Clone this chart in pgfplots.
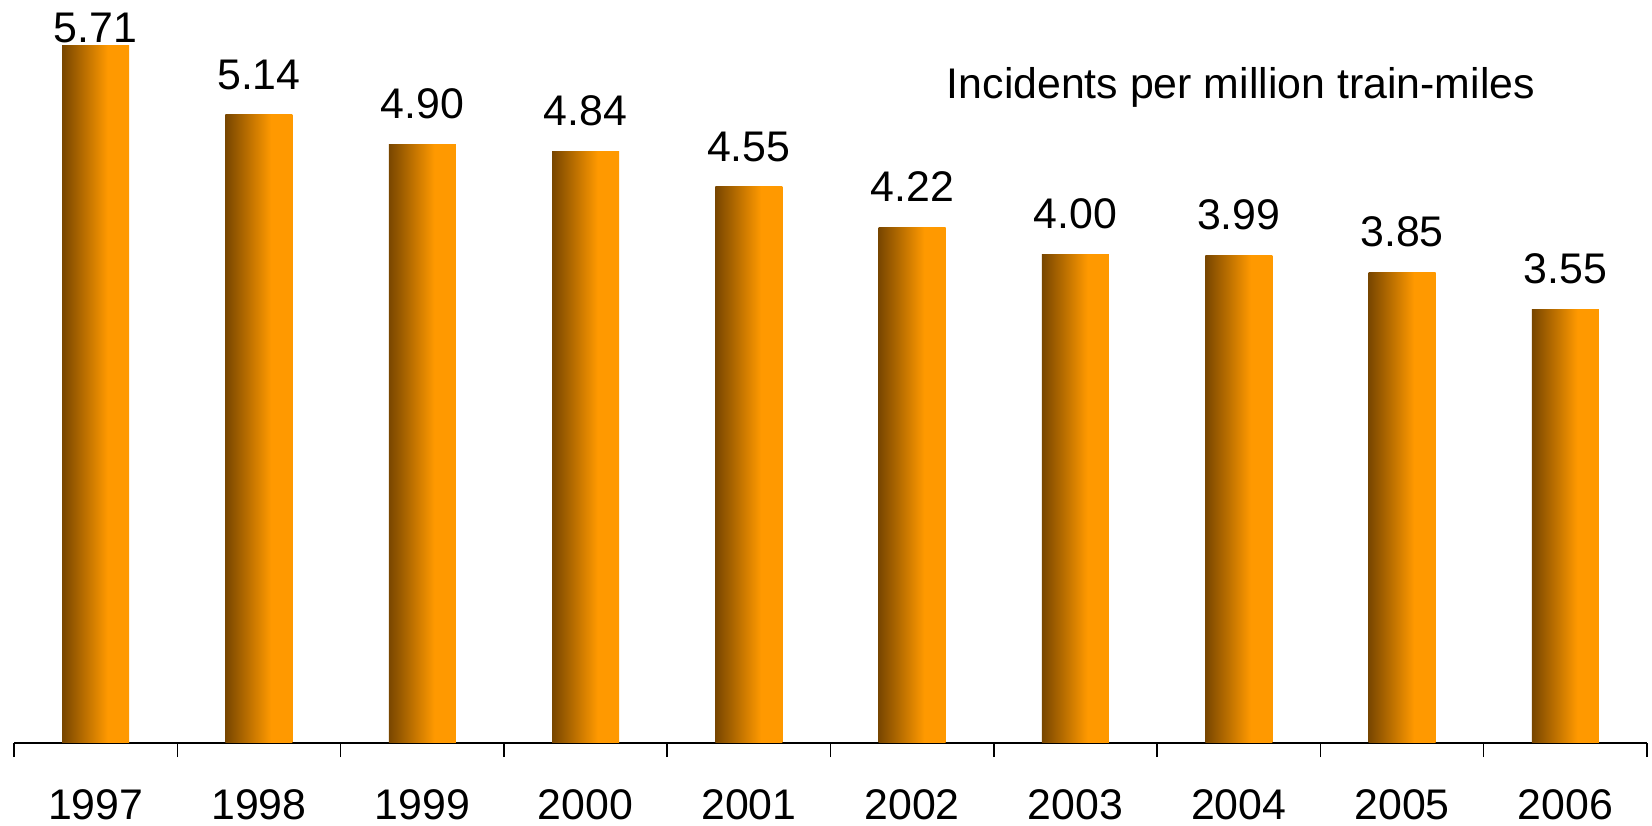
\documentclass[border=0pt]{standalone}
\usepackage{fontspec}
\setmainfont{Liberation Sans}
\usepackage{pgfplots}
\pgfplotsset{compat=1.18}

\definecolor{bardark}{RGB}{120,70,0}
\definecolor{barorange}{RGB}{255,153,0}
% brown on the left, orange from about two thirds of the bar
\pgfdeclarehorizontalshading{barshade}{100bp}{color(0bp)=(bardark); color(25bp)=(bardark); color(59bp)=(barorange); color(100bp)=(barorange)}

\pgfplotsset{
  onebar/.style={ybar, bar width=33.5bp, bar shift=0pt, draw=none, shading=barshade,
    nodes near coords={\pgfmathprintnumber[fixed,zerofill,precision=2,assume math mode=true]{\pgfplotspointmeta}},
    nodes near coords style={anchor=south, inner sep=0pt, yshift=#1, text=black}},
  onebar/.default=12.5bp,
}

\begin{document}
\begin{tikzpicture}[font=\fontsize{21.5}{26}\selectfont]
  \begin{axis}[
      scale only axis,
      width=816.5bp,
      height=371.5bp,
      xmin=-0.5, xmax=9.5,
      ymin=0, ymax=6.08,
      axis x line*=bottom,
      axis y line=none,
      axis line style={black, line width=0.75bp, -},
      xtick={0,...,9},
      xticklabels={1997,1998,1999,2000,2001,2002,2003,2004,2005,2006},
      major tick length=0pt,
      minor xtick={-0.5,0.5,...,9.5},
      minor tick length=7bp,
      xtick align=outside,
      minor tick style={black, line width=0.75bp},
      xticklabel style={anchor=north, inner sep=0pt, yshift=-23bp},
      ytick=\empty,
      clip=false,
    ]
    \addplot[onebar=1bp] coordinates {(0,5.71)};
    \addplot[onebar] coordinates {(1,5.14)};
    \addplot[onebar] coordinates {(2,4.90)};
    \addplot[onebar] coordinates {(3,4.84)};
    \addplot[onebar] coordinates {(4,4.55)};
    \addplot[onebar] coordinates {(5,4.22)};
    \addplot[onebar] coordinates {(6,4.00)};
    \addplot[onebar] coordinates {(7,3.99)};
    \addplot[onebar] coordinates {(8,3.85)};
    \addplot[onebar] coordinates {(9,3.55)};

    \node[anchor=base west, inner sep=0pt] at (axis cs:5.21,5.27) {Incidents per million train-miles};
  \end{axis}
  \pgfresetboundingbox
  \path (current axis.south west) ++(-7bp,-41.5bp) rectangle ++(826bp,413bp);
\end{tikzpicture}
\end{document}
